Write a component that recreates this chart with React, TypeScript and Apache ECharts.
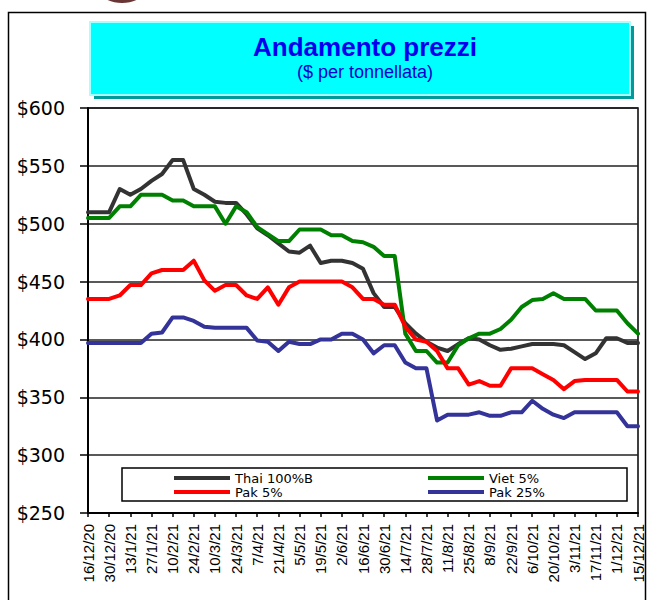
import React, { useEffect, useRef } from "react";
import * as echarts from "echarts";

const weeks = [
  "16/12/20", "23/12/20", "30/12/20", "6/1/21", "13/1/21", "20/1/21", "27/1/21", "3/2/21",
  "10/2/21", "17/2/21", "24/2/21", "3/3/21", "10/3/21", "17/3/21", "24/3/21", "31/3/21",
  "7/4/21", "14/4/21", "21/4/21", "28/4/21", "5/5/21", "12/5/21", "19/5/21", "26/5/21",
  "2/6/21", "9/6/21", "16/6/21", "23/6/21", "30/6/21", "7/7/21", "14/7/21", "21/7/21",
  "28/7/21", "4/8/21", "11/8/21", "18/8/21", "25/8/21", "1/9/21", "8/9/21", "15/9/21",
  "22/9/21", "29/9/21", "6/10/21", "13/10/21", "20/10/21", "27/10/21", "3/11/21", "10/11/21",
  "17/11/21", "24/11/21", "1/12/21", "8/12/21", "15/12/21",
];

const thai100B = [
  510, 510, 510, 530, 525, 530, 537, 543, 555, 555, 530, 525, 519, 518, 518, 508,
  496, 490, 483, 476, 475, 481, 466, 468, 468, 466, 461, 440, 428, 428, 414, 405,
  398, 393, 390, 396, 401, 400, 395, 391, 392, 394, 396, 396, 396, 395, 389, 383,
  388, 401, 401, 397, 397,
];

const viet5 = [
  505, 505, 505, 515, 515, 525, 525, 525, 520, 520, 515, 515, 515, 500, 515, 510,
  497, 491, 485, 485, 495, 495, 495, 490, 490, 485, 484, 480, 472, 472, 405, 390,
  390, 380, 380, 395, 401, 405, 405, 409, 417, 428, 434, 435, 440, 435, 435, 435,
  425, 425, 425, 414, 405,
];

const pak5 = [
  435, 435, 435, 438, 447, 447, 457, 460, 460, 460, 468, 451, 442, 447, 447, 438,
  435, 445, 430, 445, 450, 450, 450, 450, 450, 445, 435, 435, 430, 430, 411, 400,
  398, 390, 375, 375, 361, 364, 360, 360, 375, 375, 375, 370, 365, 357, 364, 365,
  365, 365, 365, 355, 355,
];

const pak25 = [
  397, 397, 397, 397, 397, 397, 405, 406, 419, 419, 416, 411, 410, 410, 410, 410,
  399, 398, 390, 398, 396, 396, 400, 400, 405, 405, 400, 388, 395, 395, 380, 375,
  375, 330, 335, 335, 335, 337, 334, 334, 337, 337, 347, 340, 335, 332, 337, 337,
  337, 337, 337, 325, 325,
];

const seriesNames = ["Thai 100%B", "Viet 5%", "Pak 5%", "Pak 25%"];
const seriesColors = ["#333333", "#008000", "#ff0000", "#333399"];
const seriesData = [thai100B, viet5, pak5, pak25];

const yMin = 250;
const yMax = 600;
const yStep = 50;

export default function App() {
  const ref = useRef<HTMLDivElement>(null);

  useEffect(() => {
    if (!ref.current) return;
    const chart = echarts.init(ref.current, undefined, { renderer: "svg" });

    const legendCommon = {
      orient: "horizontal" as const,
      padding: 0,
      itemWidth: 56,
      itemHeight: 4,
      itemGap: 0,
      icon: "rect",
      selectedMode: false,
      textStyle: { fontFamily: "DejaVu Sans", fontSize: 13, lineHeight: 14, color: "#000" },
    };

    chart.setOption({
      animation: false,
      backgroundColor: "#ffffff",
      title: {
        text: "Andamento prezzi",
        subtext: "($ per tonnellata)",
        left: 360,
        top: 29,
        textAlign: "center",
        itemGap: 3,
        textStyle: {
          fontFamily: "Liberation Sans",
          fontWeight: "bold",
          fontSize: 26,
          color: "#0000ee",
        },
        subtextStyle: {
          fontFamily: "Liberation Sans",
          fontSize: 18,
          color: "#0000cc",
        },
      },
      graphic: [
        {
          type: "ellipse",
          shape: { cx: 122, cy: -18, rx: 28, ry: 21 },
          style: { fill: "#6a3535" },
          z: 0,
        },
        {
          type: "rect",
          shape: { x: 8.5, y: 12.5, width: 637, height: 600 },
          style: { fill: "none", stroke: "#000", lineWidth: 1.5 },
          z: 0,
        },
        {
          type: "rect",
          shape: { x: 94, y: 26, width: 540, height: 73 },
          style: { fill: "#009a9a" },
          z: 0,
        },
        {
          type: "rect",
          shape: { x: 90, y: 22, width: 540, height: 73 },
          style: { fill: "#00ffff", stroke: "#a8ffff", lineWidth: 2 },
          z: 1,
        },
        {
          type: "rect",
          shape: { x: 122, y: 468, width: 505, height: 33 },
          style: { fill: "#ffffff", stroke: "#000", lineWidth: 1.5 },
          z: 3,
        },
      ],
      legend: [
        { ...legendCommon, data: [seriesNames[0]], left: 174, top: 471 },
        { ...legendCommon, data: [seriesNames[1]], left: 428, top: 471 },
        { ...legendCommon, data: [seriesNames[2]], left: 174, top: 485 },
        { ...legendCommon, data: [seriesNames[3]], left: 428, top: 485 },
      ],
      grid: {
        left: 88,
        right: 10,
        top: 108,
        bottom: 87,
        show: true,
        borderColor: "#000",
        borderWidth: 1.5,
        backgroundColor: "transparent",
      },
      xAxis: {
        type: "category",
        data: weeks,
        boundaryGap: false,
        axisLine: { show: true, lineStyle: { color: "#000", width: 2 } },
        axisTick: {
          show: true,
          interval: 1,
          length: 4,
          lineStyle: { color: "#000", width: 1.5 },
        },
        axisLabel: {
          interval: 1,
          rotate: 90,
          margin: 11,
          fontFamily: "Liberation Sans",
          fontSize: 15,
          color: "#000",
        },
        splitLine: { show: false },
      },
      yAxis: {
        type: "value",
        min: yMin,
        max: yMax,
        interval: yStep,
        axisLine: { show: true, lineStyle: { color: "#000", width: 2 } },
        axisTick: {
          show: true,
          inside: false,
          length: 8,
          lineStyle: { color: "#000", width: 1.5 },
        },
        axisLabel: {
          margin: 23,
          fontFamily: "DejaVu Sans",
          fontSize: 19,
          color: "#000",
          formatter: (v: number) => "$" + v,
        },
        splitLine: { show: true, lineStyle: { color: "#222", width: 1.5 } },
      },
      series: seriesNames.map((name, i) => ({
        name,
        type: "line",
        data: seriesData[i],
        symbol: "none",
        color: seriesColors[i],
        lineStyle: { color: seriesColors[i], width: 4, cap: "round", join: "round" },
        z: 2 + i * 0.1,
      })),
    });

    return () => {
      chart.dispose();
    };
  }, []);

  return (
    <div
      ref={ref}
      style={{ position: "absolute", left: 0, top: 0, width: 648, height: 600 }}
    />
  );
}
